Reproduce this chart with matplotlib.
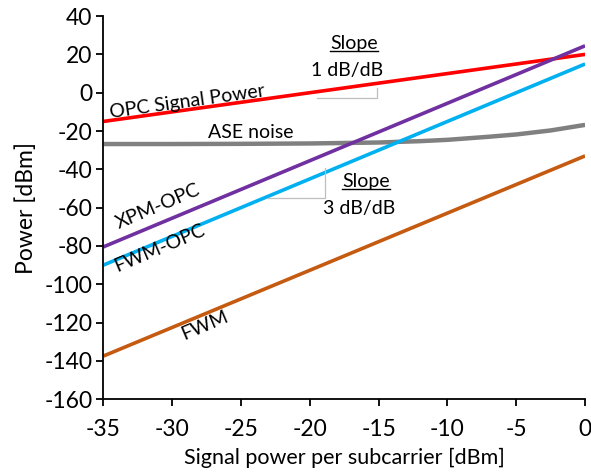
import matplotlib
matplotlib.use("Agg")
import matplotlib.pyplot as plt
import numpy as np

plt.rcParams['font.family'] = ['Lato', 'DejaVu Sans']
plt.rcParams['axes.unicode_minus'] = False

# Data
x_lin = [-35, 0]
opc_signal = [-15, 20]
xpm_opc = [-80.5, 24.5]
fwm_opc = [-90, 15]
fwm = [-137.5, -33]
x_ase = [-35, -30, -25, -20, -15, -12, -10, -7, -5, -2.5, 0]
ase = [-26.8, -26.8, -26.7, -26.5, -26.0, -25.3, -24.6, -23.0, -21.8, -19.7, -16.8]

xticks = [-35, -30, -25, -20, -15, -10, -5, 0]
yticks = list(range(-160, 41, 20))

fig = plt.figure(figsize=(5.91, 4.74), dpi=100)
ax = fig.add_axes([0.175, 0.158, 0.815, 0.808])

lw = 2.6
ax.plot(x_lin, opc_signal, color='#FF0000', lw=lw, solid_capstyle='butt')
ax.plot(x_ase, ase, color='#808080', lw=lw + 0.6, solid_capstyle='butt')
ax.plot(x_lin, xpm_opc, color='#7030A0', lw=lw, solid_capstyle='butt')
ax.plot(x_lin, fwm_opc, color='#00B0F0', lw=lw, solid_capstyle='butt')
ax.plot(x_lin, fwm, color='#C55A11', lw=lw, solid_capstyle='butt')

# slope guides
gcol = '#BFBFBF'
ax.plot([-19.5, -15.1, -15.1], [-3, -3, 2.5], color=gcol, lw=0.9)
ax.plot([-23.1, -18.9, -18.9], [-55, -55, -39.5], color=gcol, lw=0.9)

ax.set_xlim(-35, 0)
ax.set_ylim(-160, 40)
ax.set_xticks(xticks)
ax.set_yticks(yticks)
for s in ['top', 'right']:
    ax.spines[s].set_visible(False)
for s in ['left', 'bottom']:
    ax.spines[s].set_linewidth(1.3)
ax.tick_params(direction='out', length=5, width=1.3, labelsize=16.5)
ax.tick_params(axis='x', pad=9)
ax.tick_params(axis='y', pad=3)
ax.set_xlabel('Signal power per subcarrier [dBm]', fontsize=15.5, labelpad=6)
ax.set_ylabel('Power [dBm]', fontsize=16.5, labelpad=5)

fs = 14
ax.text(-28.9, -4.6, 'OPC Signal Power', fontsize=fs, rotation=8, ha='center', va='center',
        rotation_mode='anchor')
ax.text(-24.3, -21.0, 'ASE noise', fontsize=fs, ha='center', va='center')
ax.text(-31.0, -59.5, 'XPM-OPC', fontsize=fs, rotation=23, ha='center', va='center',
        rotation_mode='anchor')
ax.text(-30.9, -81.0, 'FWM-OPC', fontsize=fs, rotation=23, ha='center', va='center',
        rotation_mode='anchor')
ax.text(-27.6, -121.5, 'FWM', fontsize=fs, rotation=23, ha='center', va='center',
        rotation_mode='anchor')

t1 = ax.text(-16.8, 25.5, 'Slope', fontsize=fs, ha='center', va='center')
ax.text(-17.3, 11.8, '1 dB/dB', fontsize=fs, ha='center', va='center')
t2 = ax.text(-15.9, -46.3, 'Slope', fontsize=fs, ha='center', va='center')
ax.text(-16.4, -60.3, '3 dB/dB', fontsize=fs, ha='center', va='center')

fig.canvas.draw()
r = fig.canvas.get_renderer()
inv = ax.transData.inverted()
for t in (t1, t2):
    bb = t.get_window_extent(r)
    (x0, y0) = inv.transform((bb.x0, bb.y0 + 1))
    (x1, _) = inv.transform((bb.x1, bb.y0 + 1))
    ax.plot([x0, x1], [y0, y0], color='black', lw=1.0, clip_on=False)

fig.savefig('out.png', dpi=100)
